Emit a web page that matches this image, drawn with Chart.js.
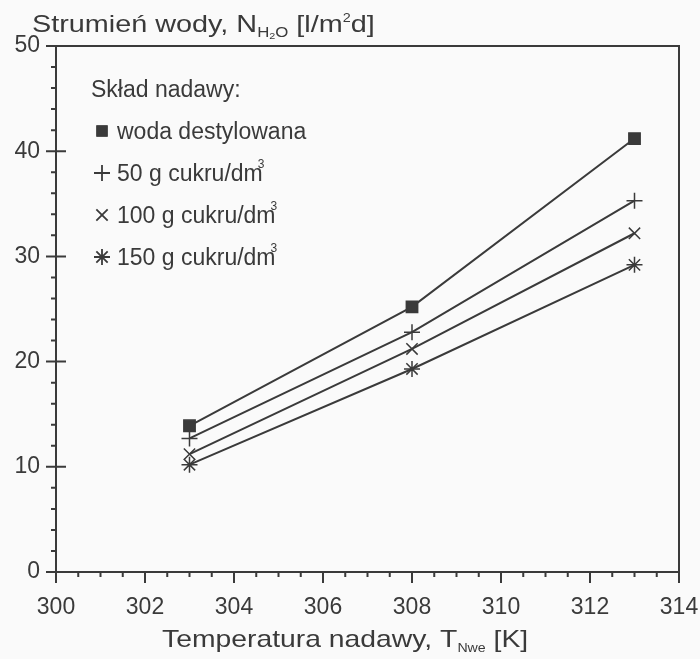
<!DOCTYPE html>
<html>
<head>
<meta charset="utf-8">
<script src="https://cdn.jsdelivr.net/npm/chart.js@4/dist/chart.umd.min.js"></script>
<style>
  body { margin: 0; background: #fafafa; }
  #wrap { width: 700px; height: 659px; }
</style>
</head>
<body>
<div id="wrap"><canvas id="chart" width="700" height="659"></canvas></div>
<script>
// Data
const temps = [303, 308, 313];
const water = [13.9, 25.2, 41.2];
const sugar50 = [12.7, 22.8, 35.3];
const sugar100 = [11.2, 21.2, 32.2];
const sugar150 = [10.2, 19.3, 29.2];

const seriesNames = ['woda destylowana', '50 g cukru/dm', '100 g cukru/dm', '150 g cukru/dm'];
const seriesMarks = ['rect', 'cross', 'crossRot', 'star'];
const legendTitle = 'Skład nadawy:';

const ink = '#3a3a3a';
const font = '"Liberation Sans", Arial, sans-serif';

function toPoints(ys) {
  return ys.map((v, i) => ({ x: temps[i], y: v }));
}

const allSeries = [water, sugar50, sugar100, sugar150];
const datasets = allSeries.map((ys, i) => ({
  label: seriesNames[i],
  data: toPoints(ys),
  borderColor: ink,
  backgroundColor: ink,
  borderWidth: 2,
  pointStyle: seriesMarks[i],
  pointRadius: 8,
  pointBorderWidth: 1.5,
  tension: 0
}));

// frame, ticks, titles and the legend box
const decor = {
  id: 'decor',
  afterDraw(chart) {
    const { ctx, chartArea: a, scales: { x, y } } = chart;
    ctx.save();
    ctx.strokeStyle = ink;
    ctx.lineWidth = 2;
    ctx.strokeRect(a.left, a.top, a.right - a.left, a.bottom - a.top);

    ctx.beginPath();
    for (let v = 0; v <= 50; v += 2) {
      const py = y.getPixelForValue(v);
      const major = v % 10 === 0;
      ctx.moveTo(a.left - (major ? 10 : 5), py);
      ctx.lineTo(a.left + (major ? 10 : 0), py);
    }
    for (let v = 300; v <= 314; v += 0.5) {
      const px = x.getPixelForValue(v);
      const major = v % 2 === 0;
      ctx.moveTo(px, a.bottom);
      ctx.lineTo(px, a.bottom + (major ? 11 : 5));
    }
    ctx.stroke();

    ctx.fillStyle = ink;
    ctx.textBaseline = 'alphabetic';
    ctx.textAlign = 'left';

    // runs of text with sub/superscripts, stretched a little sideways like the scan
    function run(parts, x0, base, sx) {
      ctx.save();
      ctx.translate(x0, base);
      ctx.scale(sx, 1);
      let cx = 0;
      parts.forEach(p => {
        ctx.font = p[1] + 'px ' + font;
        ctx.fillText(p[0], cx, p[2] || 0);
        cx += ctx.measureText(p[0]).width;
      });
      ctx.restore();
    }
    run([['Strumień wody, N', 24], ['H', 14, 5], ['2', 9, 7], ['O', 14, 5],
         [' [l/m', 24], ['2', 12, -10], ['d]', 24]], 32, 32, 1.2);
    run([['Temperatura nadawy, T', 24], ['Nwe', 12, 5], [' [K]', 24]], 162, 647, 1.18);

    // legend
    ctx.font = '23px ' + font;
    ctx.fillText(legendTitle, 91, 97);
    seriesNames.forEach((name, i) => {
      const cy = 131 + i * 42;
      ctx.lineWidth = 1.8;
      Chart.helpers.drawPoint(ctx, { pointStyle: seriesMarks[i], radius: 8, rotation: 0 }, 102, cy);
      if (seriesMarks[i] === 'rect') ctx.fill(); else ctx.stroke();
      ctx.font = '23px ' + font;
      ctx.fillText(name, 117, cy + 8);
      if (name.endsWith('dm')) {
        const w = ctx.measureText(name).width;
        ctx.font = '12px ' + font;
        ctx.fillText('3', 117 + w - 5, cy - 5);
      }
    });
    ctx.restore();
  }
};

new Chart(document.getElementById('chart'), {
  type: 'line',
  data: { datasets },
  options: {
    responsive: false,
    animation: false,
    layout: { padding: { top: 46, right: 21, left: 0, bottom: 0 } },
    plugins: { legend: { display: false }, tooltip: { enabled: false } },
    scales: {
      x: {
        type: 'linear', min: 300, max: 314,
        grid: { display: false, drawTicks: false },
        border: { display: false },
        ticks: { stepSize: 2, padding: 22, color: ink, font: { family: font, size: 23 } },
        afterFit(s) { s.height = 87; s.paddingLeft = 0; s.paddingRight = 0; }
      },
      y: {
        min: 0, max: 50,
        grid: { display: false, drawTicks: false },
        border: { display: false },
        ticks: { stepSize: 10, padding: 16, color: ink, font: { family: font, size: 23 } },
        afterFit(s) { s.width = 56; s.paddingTop = 0; s.paddingBottom = 0; }
      }
    }
  },
  plugins: [decor]
});
</script>
</body>
</html>
